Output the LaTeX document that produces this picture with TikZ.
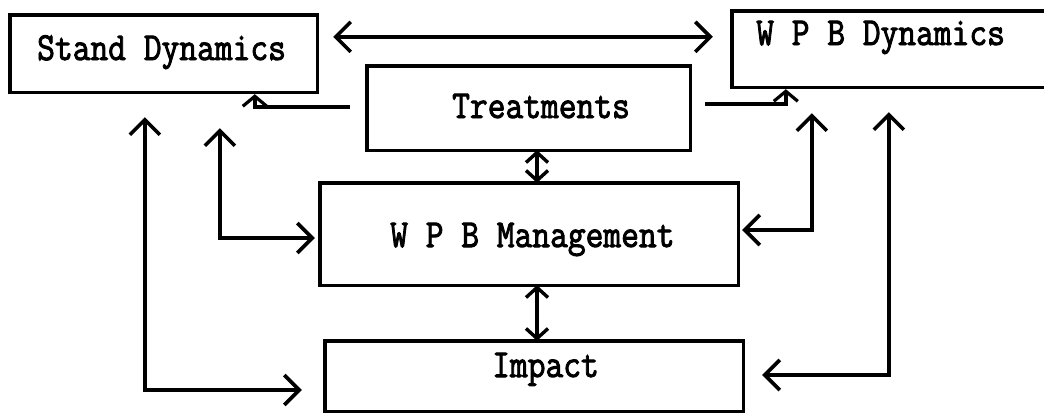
\documentclass[tikz,border=0pt]{standalone}
\usepackage{fontspec}
\usetikzlibrary{arrows.meta}
\newfontfamily\twfont{Latin Modern Mono}[FakeBold=2.5]
\newcommand\tall[1]{\scalebox{1}[1.15]{#1}}
\tikzset{
  box/.style={draw=none,rectangle,inner sep=0pt},
  boxline/.style={line width=3.4pt,line join=miter,line cap=rect},
  txt/.style={inner sep=0pt,anchor=base west,font=\twfont\fontsize{34.5}{40}\selectfont},
  conn/.style={line width=3.6pt,line join=miter},
  dbl/.style={conn,arrows={Straight Barb[length=15pt,width=30pt,line width=3.6pt]-Straight Barb[length=15pt,width=30pt,line width=3.6pt]}},
  shortdbl/.style={conn,arrows={Straight Barb[length=10pt,width=22pt,line width=3.4pt]-Straight Barb[length=10pt,width=22pt,line width=3.4pt]}},
  smalltip/.style={conn,arrows={-Straight Barb[length=10pt,width=24pt,line width=3.2pt]}},
}
\begin{document}
\begin{tikzpicture}[x=1pt,y=-1pt]
\useasboundingbox[fill=white] (0,0) rectangle (1044,415);

% boxes
\node[box,minimum width=307pt,minimum height=77pt] (sd) at (163.5,53.5) {};
\node[box,minimum width=330pt,minimum height=76pt] (wd) at (897,49) {};
\node[box,minimum width=323pt,minimum height=84pt] (tr) at (528.5,108) {};
\node[box,minimum width=418pt,minimum height=102pt] (wm) at (529,234) {};
\node[box,minimum width=418pt,minimum height=70pt] (im) at (534,376) {};

\draw[boxline] (sd.north west) rectangle (sd.south east);
\draw[boxline] (wd.north east) -- (wd.north west) -- (wd.south west) -- (wd.south east);
\draw[boxline] (tr.north west) rectangle (tr.south east);
\draw[boxline] (wm.north west) rectangle (wm.south east);
\draw[boxline] (im.north west) rectangle (im.south east);

% labels
\node[txt] (sdt) at (37,60) {\tall{Stand Dynamics}};
\node[txt] (wdt) at (756,45) {\tall{W P B Dynamics}};
\node[txt] (trt) at (452,118) {\tall{Treatments}};
\node[txt] (wmt) at (390,247) {\tall{W P B Management}};
\node[txt] (imt) at (492,377) {\tall{Impact}};

% stand dynamics <-> wpb dynamics
\draw[dbl] ([shift={(16,22)}]sd.north east) -- ([shift={(-19,26)}]wd.north west);

% treatments feeding both dynamics boxes
\draw[smalltip] ([shift={(-17,-1)}]tr.west) -| ([shift={(245,2)}]sd.south west);
\draw[smalltip] ([shift={(15,-4)}]tr.east) -| ([shift={(54,2)}]wd.south west);

% vertical links through the centre column
\draw[shortdbl] ([xshift=8.5]tr.south) -- ([xshift=8]wm.north);
\draw[shortdbl] ([xshift=8]wm.south) -- ([xshift=3]im.north);

% left side loops
\draw[dbl] ([shift={(135,25)}]sd.south west) |- ([shift={(-23,14)}]im.west);
\draw[dbl] ([shift={(210,36)}]sd.south west) |- ([shift={(-5,4)}]wm.west);

% right side loops
\draw[dbl] ([shift={(80,26)}]wd.south west) |- ([shift={(4,-4)}]wm.east);
\draw[dbl] ([shift={(157,25)}]wd.south west) |- ([shift={(19,-1)}]im.east);
\end{tikzpicture}
\end{document}
